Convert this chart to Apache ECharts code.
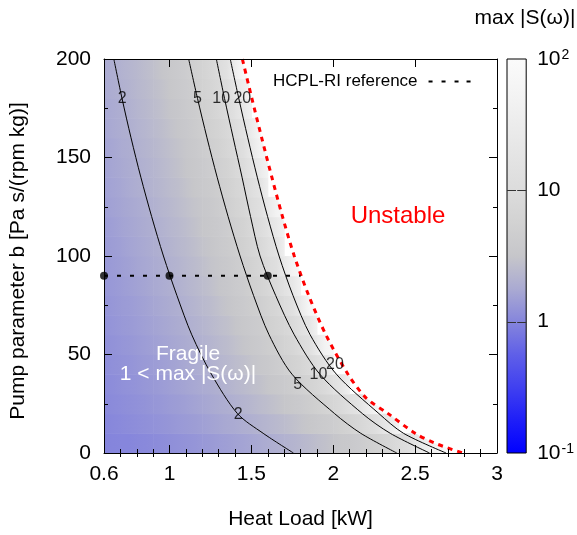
<!DOCTYPE html>
<html>
<head>
	<meta charset="utf-8">
	<title>max |S(ω)| map</title>
	<script src="https://cdn.jsdelivr.net/npm/echarts@6/dist/echarts.min.js"></script>
	<style>
		html, body { margin: 0; padding: 0; background: #fff; }
		#main { width: 577px; height: 535px; }
	</style>
</head>
<body>
	<div id="main"></div>
	<script>
		// axis ticks
		var xTickLabels = [0.6, 1, 1.5, 2, 2.5, 3];
		var xMajorTicks = [1, 1.5, 2, 2.5];
		var xMinorTicks = [0.7, 0.8, 0.9, 1.1, 1.2, 1.3, 1.4, 1.6, 1.7, 1.8, 1.9, 2.1, 2.2, 2.3, 2.4, 2.6, 2.7, 2.8, 2.9];

		// colour bar (log scale 10^-1 .. 10^2), colours evenly spaced in log10
		var cbTicks = [0.1, 1, 10, 100];
		var cbTickLabels = ['{b|10}{sup|-1}', '{b|1}', '{b|10}', '{b|10}{sup|2}'];
		var cbColors = ['#0000ff', '#1e1ef8', '#4040f0', '#5f5fe8', '#8585dc', '#aaaad2',
			'#c6c6ca', '#d2d2d2', '#dcdcdc', '#e4e4e4', '#ececec', '#f4f4f4', '#fbfbfb'];

		// max|S(w)| read on cells of 0.1 kW x 10, rows from b=5 upwards, each row ends at the stability limit
		var mapX = [0.65, 0.75, 0.85, 0.95, 1.05, 1.15, 1.25, 1.35, 1.45, 1.55, 1.65, 1.75,
			1.85, 1.95, 2.05, 2.15, 2.25, 2.35, 2.45, 2.55, 2.65, 2.75, 2.85, 2.95];
		var mapY = [5, 15, 25, 35, 45, 55, 65, 75, 85, 95, 105, 115, 125, 135, 145, 155, 165, 175, 185, 195];
		var mapRows = [
			[1.0, 1.02, 1.07, 1.14, 1.21, 1.29, 1.39, 1.5, 1.63, 1.78, 1.97, 2.2, 2.49, 2.86, 3.4, 4.1, 5.3, 7.3, 11.8, 31, 60],
			[1.05, 1.11, 1.18, 1.26, 1.36, 1.46, 1.59, 1.74, 1.92, 2.14, 2.42, 2.78, 3.27, 3.97, 5.04, 6.9, 11, 27],
			[1.10, 1.17, 1.25, 1.35, 1.46, 1.59, 1.75, 1.95, 2.19, 2.5, 2.92, 3.5, 4.36, 5.8, 8.7, 17, 50],
			[1.14, 1.22, 1.32, 1.43, 1.56, 1.72, 1.91, 2.15, 2.46, 2.88, 3.47, 4.36, 5.86, 8.9, 19],
			[1.18, 1.27, 1.38, 1.5, 1.65, 1.84, 2.07, 2.36, 2.76, 3.31, 4.15, 5.54, 8.3, 17],
			[1.23, 1.33, 1.45, 1.59, 1.76, 1.98, 2.25, 2.6, 3.09, 3.8, 4.95, 7.1, 12.5, 51],
			[1.28, 1.39, 1.52, 1.67, 1.86, 2.1, 2.4, 2.82, 3.4, 4.29, 5.8, 9.0, 19.8],
			[1.32, 1.44, 1.58, 1.75, 1.96, 2.23, 2.59, 3.08, 3.8, 4.97, 7.2, 12.9, 62],
			[1.37, 1.49, 1.65, 1.84, 2.07, 2.38, 2.79, 3.38, 4.29, 5.85, 9.2, 21.7],
			[1.41, 1.55, 1.72, 1.92, 2.19, 2.53, 3.01, 3.71, 4.83, 6.9, 12.2, 52],
			[1.46, 1.61, 1.79, 2.01, 2.3, 2.69, 3.22, 4.04, 5.39, 8.1, 16.4],
			[1.51, 1.67, 1.86, 2.1, 2.42, 2.85, 3.46, 4.41, 6.1, 9.8, 24.8],
			[1.57, 1.73, 1.94, 2.21, 2.56, 3.04, 3.74, 4.87, 7.0, 12.2, 50],
			[1.62, 1.8, 2.03, 2.31, 2.7, 3.24, 4.06, 5.41, 8.1, 16.3],
			[1.66, 1.85, 2.09, 2.41, 2.84, 3.46, 4.43, 6.1, 10, 27],
			[1.71, 1.91, 2.17, 2.52, 2.99, 3.68, 4.79, 6.9, 12, 50],
			[1.77, 1.99, 2.27, 2.65, 3.17, 3.96, 5.27, 7.9, 15.5, 60],
			[1.83, 2.07, 2.38, 2.79, 3.38, 4.29, 5.86, 9.2, 22],
			[1.89, 2.15, 2.48, 2.94, 3.6, 4.65, 6.6, 11.1, 37],
			[1.94, 2.22, 2.58, 3.08, 3.83, 5.05, 7.4, 14, 80]
		];

		// contour lines [heat load, b]
		var contour2 = [[0.66, 200], [0.71, 180], [0.765, 160], [0.825, 140], [0.891, 120], [0.963, 100],
			[1.045, 80], [1.136, 60], [1.256, 40], [1.415, 20], [1.572, 10], [1.757, 0]];
		var contour5 = [[1.117, 200], [1.171, 180], [1.229, 160], [1.291, 140], [1.358, 120], [1.431, 100],
			[1.513, 80], [1.608, 60], [1.748, 40], [2.008, 20], [2.168, 10], [2.388, 0]];
		var contour10 = [[1.286, 200], [1.336, 180], [1.389, 160], [1.443, 140], [1.495, 120], [1.553, 100],
			[1.648, 80], [1.762, 60], [1.918, 40], [2.178, 20], [2.348, 10], [2.588, 0]];
		var contour20 = [[1.371, 200], [1.423, 180], [1.478, 160], [1.536, 140], [1.599, 120], [1.669, 100],
			[1.754, 80], [1.859, 60], [2.019, 40], [2.279, 20], [2.429, 10], [2.689, 0]];
		var contourLabels = [[0.711, 180, '2'], [1.17, 180, '5'], [1.316, 180, '10'], [1.445, 180, '20'],
			[1.42, 19.4, '2'], [1.783, 34.5, '5'], [1.91, 39.8, '10'], [2.01, 44.8, '20']];

		// stability limit
		var boundary = [[1.445, 200], [1.503, 180], [1.563, 160], [1.625, 140], [1.69, 120], [1.762, 100],
			[1.85, 80], [1.955, 60], [2.09, 40], [2.2, 28], [2.335, 20], [2.50, 10], [2.62, 5], [2.79, 0]];

		// HCPL-RI reference
		var hcplLine = [[0.6, 90], [1.8, 90]];
		var hcplPoints = [[0.6, 90], [1.0, 90], [1.6, 90]];

		function mapColor(lg) {
			var t = Math.max(0, Math.min(1, (lg + 1) / 3));
			return echarts.color.lerp(t, cbColors);
		}

		// each cell: x, y, log10 at left edge, centre and right edge
		var mapData = [];
		for (var r = 0; r < mapRows.length; r++) {
			var row = mapRows[r].map(function (v) { return Math.log10(v); });
			for (var c = 0; c < row.length; c++) {
				var prev = c > 0 ? row[c - 1] : row[c] - (row[c + 1] - row[c]);
				var next = c < row.length - 1 ? row[c + 1] : 2;
				mapData.push([mapX[c], mapY[r], (prev + row[c]) / 2, row[c], (row[c] + next) / 2]);
			}
		}

		var cbStops = [];
		for (var i = 0; i < cbColors.length; i++) {
			cbStops.push({offset: i / (cbColors.length - 1), color: cbColors[i]});
		}

		var black = {color: '#000', width: 1};
		var font = 'Liberation Sans, Arial, sans-serif';

		function contourSeries(data) {
			return {
				type: 'line', xAxisIndex: 0, yAxisIndex: 0, data: data, symbol: 'none', smooth: 0.3,
				lineStyle: {color: '#000', width: 1}, silent: true, z: 3
			};
		}

		var chart = echarts.init(document.getElementById('main'));
		chart.setOption({
			animation: false,
			textStyle: {fontFamily: font},
			grid: [
				{left: 103, top: 59, width: 394, height: 394},
				{left: 507, top: 59, width: 20, height: 394}
			],
			legend: {
				data: [{name: 'HCPL-RI reference', icon: 'path://M0 0h4v2H0z M13 0h4v2h-4z M26 0h4v2h-4z M38 0h4v2h-4z'}],
				left: 268, top: 68, align: 'right', selectedMode: false,
				itemWidth: 42, itemHeight: 2, itemStyle: {color: '#000'},
				textStyle: {fontSize: 17, color: '#000', padding: [0, 6, 0, 0]}
			},
			xAxis: [
				{
					type: 'value', gridIndex: 0, position: 'bottom', min: 0.6, max: 3, z: 10,
					axisLine: {show: true, onZero: false, lineStyle: black},
					axisTick: {inside: true, length: 8, customValues: xMajorTicks, lineStyle: black},
					axisLabel: {customValues: xTickLabels, fontSize: 21, color: '#000', margin: 11},
					splitLine: {show: false},
					name: 'Heat Load [kW]', nameLocation: 'middle', nameGap: 56,
					nameTextStyle: {fontSize: 21, color: '#000'}
				},
				{
					type: 'value', gridIndex: 0, position: 'bottom', min: 0.6, max: 3, z: 10,
					axisLine: {show: false},
					axisTick: {inside: true, length: 4, customValues: xMinorTicks, lineStyle: black},
					axisLabel: {show: false}, splitLine: {show: false}
				},
				{
					type: 'value', gridIndex: 0, position: 'top', min: 0.6, max: 3, z: 10,
					axisLine: {show: true, onZero: false, lineStyle: black},
					axisTick: {inside: true, length: 8, customValues: xMajorTicks, lineStyle: black},
					axisLabel: {show: false}, splitLine: {show: false}
				},
				{
					type: 'value', gridIndex: 0, position: 'top', min: 0.6, max: 3, z: 10,
					axisLine: {show: false},
					axisTick: {inside: true, length: 4, customValues: xMinorTicks, lineStyle: black},
					axisLabel: {show: false}, splitLine: {show: false}
				},
				{type: 'value', gridIndex: 1, min: 0, max: 1, show: false}
			],
			yAxis: [
				{
					type: 'value', gridIndex: 0, position: 'left', min: 0, max: 200, interval: 50, z: 10,
					axisLine: {show: true, onZero: false, lineStyle: black},
					axisTick: {inside: true, length: 8, lineStyle: black},
					minorTick: {show: true, splitNumber: 2, length: 4, lineStyle: black},
					axisLabel: {fontSize: 21, color: '#000', margin: 13},
					splitLine: {show: false},
					name: 'Pump parameter b [Pa s/(rpm kg)]', nameLocation: 'middle', nameGap: 75,
					nameTextStyle: {fontSize: 21, color: '#000', padding: [0, 10, 0, 0]}
				},
				{
					type: 'value', gridIndex: 0, position: 'right', min: 0, max: 200, interval: 50, z: 10,
					axisLine: {show: true, onZero: false, lineStyle: black},
					axisTick: {inside: true, length: 8, lineStyle: black},
					minorTick: {show: true, splitNumber: 2, length: 4, lineStyle: black},
					axisLabel: {show: false}, splitLine: {show: false}
				},
				{
					type: 'log', logBase: 10, gridIndex: 1, position: 'right', min: 0.1, max: 100, z: 10,
					axisLine: {show: false}, axisTick: {show: false},
					axisLabel: {
						margin: 11, color: '#000',
						formatter: function (v) {
							return cbTickLabels[Math.round(Math.log10(v)) + 1];
						},
						rich: {
							b: {fontSize: 21, lineHeight: 21, verticalAlign: 'bottom', color: '#000'},
							sup: {fontSize: 14, lineHeight: 14, verticalAlign: 'top', padding: [0, 0, 14, 1], color: '#000'}
						}
					},
					splitLine: {show: false}
				}
			],
			series: [
				{
					type: 'custom', xAxisIndex: 0, yAxisIndex: 0, clip: true, silent: true, z: 1,
					encode: {x: 0, y: 1},
					data: mapData,
					renderItem: function (params, api) {
						var p = api.coord([api.value(0) - 0.05, api.value(1) + 5]);
						var s = api.size([0.1, 10]);
						return {
							type: 'rect',
							shape: {x: p[0], y: p[1], width: s[0] + 0.6, height: s[1] + 0.6},
							style: {
								fill: new echarts.graphic.LinearGradient(0, 0, 1, 0, [
									{offset: 0, color: mapColor(api.value(2))},
									{offset: 0.5, color: mapColor(api.value(3))},
									{offset: 1, color: mapColor(api.value(4))}
								])
							}
						};
					}
				},
				{
					// unstable region beyond the stability limit
					type: 'custom', xAxisIndex: 0, yAxisIndex: 0, clip: true, silent: true, z: 2,
					data: [[3, 0]],
					renderItem: function (params, api) {
						var pts = boundary.map(function (d) { return api.coord(d); });
						pts.push(api.coord([3, 0]), api.coord([3, 200]));
						return {type: 'polygon', shape: {points: pts}, style: {fill: '#fff'}};
					}
				},
				contourSeries(contour2),
				contourSeries(contour5),
				contourSeries(contour10),
				contourSeries(contour20),
				{
					type: 'line', xAxisIndex: 0, yAxisIndex: 0, data: boundary, symbol: 'none', smooth: 0.3,
					lineStyle: {color: '#ff0000', width: 3, type: [5, 5]}, silent: true, z: 4
				},
				{
					type: 'line', name: 'HCPL-RI reference', xAxisIndex: 0, yAxisIndex: 0, data: hcplLine,
					symbol: 'none', lineStyle: {color: '#000', width: 2, type: [4, 9]}, itemStyle: {color: '#000'},
					silent: true, z: 5
				},
				{
					type: 'scatter', xAxisIndex: 0, yAxisIndex: 0, data: hcplPoints, symbolSize: 8,
					itemStyle: {color: '#000'}, silent: true, z: 6
				},
				{
					type: 'scatter', xAxisIndex: 0, yAxisIndex: 0, data: contourLabels, symbolSize: 1,
					itemStyle: {color: 'rgba(0,0,0,0)'}, silent: true, z: 6,
					label: {
						show: true, position: 'inside', fontSize: 16, color: '#000',
						formatter: function (p) { return p.value[2]; }
					}
				},
				{
					// colour bar with its inner ticks
					type: 'custom', xAxisIndex: 4, yAxisIndex: 2, silent: true, z: 2,
					data: [[0, 1]],
					renderItem: function (params, api) {
						var cs = params.coordSys;
						var children = [{
							type: 'rect',
							shape: {x: cs.x, y: cs.y, width: cs.width, height: cs.height},
							style: {
								fill: new echarts.graphic.LinearGradient(0, 1, 0, 0, cbStops),
								stroke: '#000', lineWidth: 1
							}
						}];
						cbTicks.slice(1, -1).forEach(function (v) {
							var y = Math.round(api.coord([0, v])[1]) + 0.5;
							children.push({type: 'line', shape: {x1: cs.x, y1: y, x2: cs.x + 9, y2: y}, style: {stroke: '#333', lineWidth: 1}});
							children.push({type: 'line', shape: {x1: cs.x + cs.width - 9, y1: y, x2: cs.x + cs.width, y2: y}, style: {stroke: '#333', lineWidth: 1}});
						});
						return {type: 'group', children: children};
					}
				}
			],
			graphic: [
				{
					type: 'text', x: 398, y: 216, z: 100,
					style: {text: 'Unstable', fill: '#ff0000', font: '24px ' + font, align: 'center', verticalAlign: 'middle'}
				},
				{
					type: 'text', x: 188, y: 364, z: 100,
					style: {text: 'Fragile\n1 < max |S(ω)|', fill: '#fff', font: '21px ' + font,
						lineHeight: 20, align: 'center', verticalAlign: 'middle'}
				},
				{
					type: 'text', x: 525, y: 18, z: 100,
					style: {text: 'max |S(ω)|', fill: '#000', font: '21px ' + font, align: 'center', verticalAlign: 'middle'}
				}
			]
		});
	</script>
</body>
</html>
